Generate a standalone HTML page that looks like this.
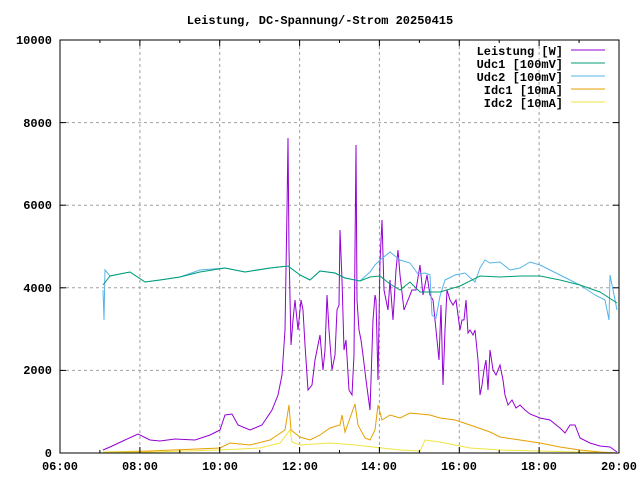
<!DOCTYPE html>
<html><head><meta charset="utf-8"><style>body{margin:0;background:#fff}svg{display:block}text{font-family:"Liberation Mono",monospace;font-size:12px;font-weight:bold}</style></head><body>
<svg width="640" height="480" xmlns="http://www.w3.org/2000/svg">
<rect width="640" height="480" fill="#fff"/>
<g stroke="#a0a0a0" stroke-dasharray="3,3" stroke-width="1">
<line x1="60" y1="370.4" x2="619" y2="370.4"/><line x1="60" y1="287.8" x2="619" y2="287.8"/><line x1="60" y1="205.2" x2="619" y2="205.2"/><line x1="60" y1="122.6" x2="619" y2="122.6"/>
<line x1="139.9" y1="40" x2="139.9" y2="453"/><line x1="219.7" y1="40" x2="219.7" y2="453"/><line x1="299.6" y1="40" x2="299.6" y2="453"/><line x1="379.4" y1="40" x2="379.4" y2="453"/><line x1="459.3" y1="40" x2="459.3" y2="453"/><line x1="539.1" y1="40" x2="539.1" y2="453"/>
</g>
<g fill="none" stroke-width="1">
<polyline stroke="#9400d3" points="103,450 110,447 125,440 138,434 150,440 160,441 175,439 195,440 210,435 220,430 225,415 232,414 238,425 250,430 262,425 272,410 278,395 282,375 285,330 287,210 288,138 289,250 291,345 293,320 295,300 298,330 301,300 303,310 305,345 308,390 312,385 315,360 318,345 320,335 323,370 325,350 327,295 329,330 332,370 335,355 337,310 339,305 340,230 342,280 344,350 346,340 349,390 352,395 354,355 356,145 357,300 359,330 361,340 363,355 366,380 370,410 373,320 375,295 376,300 378,380 380,262 382,220 384,290 386,300 388,310 390,280 393,320 396,270 398,250 400,275 404,310 408,300 412,290 416,290 420,265 423,295 427,275 430,295 433,300 435,320 437,340 439,360 441,305 443,385 445,330 447,290 450,300 453,305 456,300 460,330 462,320 464,320 466,300 468,333 470,330 473,335 475,330 478,360 480,395 482,385 484,370 486,360 488,390 490,350 493,370 496,375 500,365 503,380 505,395 508,405 512,400 516,408 520,405 525,410 530,414 540,418 550,420 560,428 565,433 570,425 575,425 580,438 590,443 600,446 610,447 617,452"/>
<polyline stroke="#56b4e9" points="103,290 104,320 105,270 110,276 130,272 145,282 160,280 180,277 200,270 225,268 245,272 270,268 288,266 300,275 310,280 320,271 335,273 345,278 360,281 370,272 375,265 380,260 390,252 400,260 410,263 418,274 425,273 430,275 432,315 436,318 440,296 445,280 455,275 465,273 475,282 480,268 485,260 490,263 500,262 510,270 520,268 530,262 540,265 550,270 560,275 570,280 580,285 595,295 605,300 609,320 610,275 617,310"/>
<polyline stroke="#009e73" points="103,285 110,276 130,272 145,282 160,280 180,277 200,272 225,268 245,272 270,268 288,266 300,275 310,280 320,271 335,273 345,278 360,281 370,277 380,276 390,284 400,290 410,282 420,292 440,292 460,286 480,276 500,277 520,276 540,276 560,280 580,285 600,292 617,303"/>
<polyline stroke="#e69f00" points="103,452 150,451 220,448 230,443 250,445 270,440 285,430 289,405 291,430 300,437 310,440 320,435 330,428 340,425 342,415 345,432 355,404 358,425 365,438 370,440 375,430 378,405 382,420 390,415 400,418 410,413 430,415 440,418 455,420 470,425 490,432 500,437 520,440 540,443 560,447 580,450 600,452 617,453"/>
<polyline stroke="#f0e442" points="103,452 150,452 220,450 260,448 280,443 290,430 292,442 300,445 330,443 355,445 400,450 420,451 425,440 440,442 455,445 470,448 500,450 540,451 617,453"/>
</g>
<rect x="60" y="40" width="559" height="413" fill="none" stroke="#000"/>
<g stroke="#000">
<line x1="60" y1="370.4" x2="66" y2="370.4"/><line x1="60" y1="287.8" x2="66" y2="287.8"/><line x1="60" y1="205.2" x2="66" y2="205.2"/><line x1="60" y1="122.6" x2="66" y2="122.6"/>
<line x1="613" y1="370.4" x2="619" y2="370.4"/><line x1="613" y1="287.8" x2="619" y2="287.8"/><line x1="613" y1="205.2" x2="619" y2="205.2"/><line x1="613" y1="122.6" x2="619" y2="122.6"/>
<path d="M99.9 453v-3M139.9 453v-6M179.8 453v-3M219.7 453v-6M259.7 453v-3M299.6 453v-6M339.5 453v-3M379.4 453v-6M419.4 453v-3M459.3 453v-6M499.2 453v-3M539.1 453v-6M579.1 453v-3M99.9 40v3M139.9 40v6M179.8 40v3M219.7 40v6M259.7 40v3M299.6 40v6M339.5 40v3M379.4 40v6M419.4 40v3M459.3 40v6M499.2 40v3M539.1 40v6M579.1 40v3"/>
</g>
<text x="320" y="24" text-anchor="middle">Leistung, DC-Spannung/-Strom 20250415</text>
<g text-anchor="end"><text x="52" y="457">0</text><text x="52" y="374">2000</text><text x="52" y="292">4000</text><text x="52" y="209">6000</text><text x="52" y="127">8000</text><text x="52" y="44">10000</text></g>
<g text-anchor="middle"><text x="60" y="470">06:00</text><text x="140" y="470">08:00</text><text x="220" y="470">10:00</text><text x="300" y="470">12:00</text><text x="379" y="470">14:00</text><text x="459" y="470">16:00</text><text x="539" y="470">18:00</text><text x="619" y="470">20:00</text></g>
<g text-anchor="end"><text x="563" y="55">Leistung [W]</text><text x="563" y="68">Udc1 [100mV]</text><text x="563" y="81">Udc2 [100mV]</text><text x="563" y="94">Idc1 [10mA]</text><text x="563" y="107">Idc2 [10mA]</text></g>
<line x1="571" y1="50" x2="605" y2="50" stroke="#9400d3"/><line x1="571" y1="63" x2="605" y2="63" stroke="#009e73"/><line x1="571" y1="76" x2="605" y2="76" stroke="#56b4e9"/><line x1="571" y1="89" x2="605" y2="89" stroke="#e69f00"/><line x1="571" y1="102" x2="605" y2="102" stroke="#f0e442"/>
</svg>
</body></html>
